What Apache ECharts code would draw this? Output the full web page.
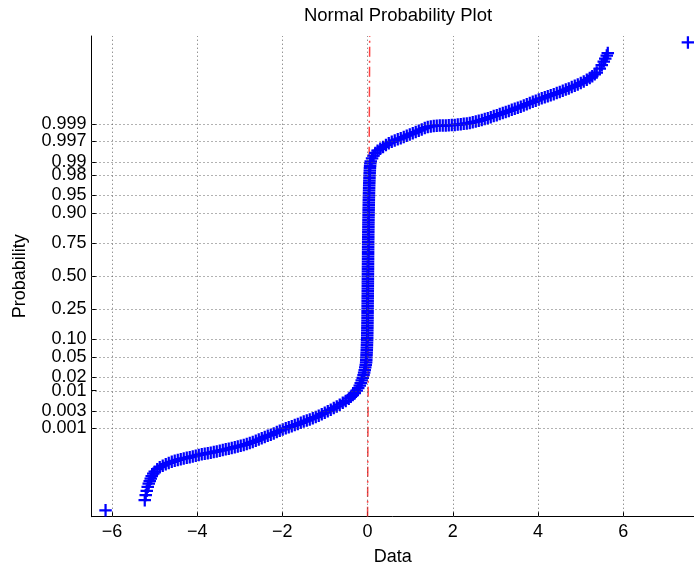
<!DOCTYPE html>
<html><head><meta charset="utf-8">
<script src="https://cdn.jsdelivr.net/npm/echarts@6/dist/echarts.min.js"></script>
<style>html,body{margin:0;padding:0;background:#fff}#c{width:694px;height:566px}</style>
</head><body><div id="c"></div>
<script>
// ---------- data (x = Data value, z = normal quantile of plotting position) ----------
const xTicks = [-6, -4, -2, 0, 2, 4, 6];
const probTicks = [0.001, 0.003, 0.01, 0.02, 0.05, 0.10, 0.25, 0.50, 0.75, 0.90, 0.95, 0.98, 0.99, 0.997, 0.999];
const probLabels = ['0.001', '0.003', '0.01', '0.02', '0.05', '0.10', '0.25', '0.50', '0.75', '0.90', '0.95', '0.98', '0.99', '0.997', '0.999'];

const outlierX = [-6.15, 7.52];
const outlierZ = [-4.76, 4.76];

const lowerStackX = [-5.230, -5.207, -5.183, -5.160, -5.136];
const lowerStackZ = [-4.553, -4.451, -4.364, -4.282, -4.217];

const lowerTailX = [-5.113, -5.089, -5.066, -5.030, -4.995, -4.937, -4.878,
  -4.808, -4.737, -4.667, -4.596, -4.526, -4.455, -4.385, -4.315, -4.244, -4.174, -4.103, -4.033, -3.962,
  -3.892, -3.822, -3.751, -3.681, -3.610, -3.540, -3.469, -3.399, -3.329, -3.258, -3.188, -3.117, -3.047, -2.977, -2.906, -2.836, -2.765, -2.695, -2.624, -2.554, -2.484, -2.413, -2.343,
  -2.272, -2.202, -2.131, -2.061, -1.991, -1.920, -1.850, -1.779, -1.709, -1.638, -1.568, -1.498, -1.427, -1.357, -1.286, -1.216, -1.146, -1.075, -1.005, -0.934, -0.864, -0.793, -0.723, -0.653, -0.582, -0.512,
  -0.441, -0.394, -0.347, -0.300, -0.254, -0.218, -0.183, -0.160, -0.136, -0.113, -0.094, -0.080, -0.066, -0.054, -0.042, -0.033];
const lowerTailZ = [-4.167, -4.116, -4.065, -4.014, -3.974, -3.923, -3.882,
  -3.852, -3.821, -3.797, -3.774, -3.754, -3.736, -3.719, -3.705, -3.693, -3.679, -3.665, -3.648, -3.634,
  -3.620, -3.608, -3.598, -3.587, -3.573, -3.561, -3.547, -3.535, -3.520, -3.506, -3.492, -3.476, -3.461, -3.445, -3.429, -3.411, -3.390, -3.370, -3.346, -3.321, -3.295, -3.268, -3.242,
  -3.224, -3.197, -3.169, -3.140, -3.114, -3.091, -3.069, -3.049, -3.026, -3.004, -2.980, -2.955, -2.933, -2.911, -2.886, -2.864, -2.835, -2.805, -2.774, -2.744, -2.713, -2.681, -2.646, -2.610, -2.573, -2.535,
  -2.490, -2.451, -2.415, -2.378, -2.327, -2.276, -2.222, -2.171, -2.118, -2.065, -2.012, -1.959, -1.907, -1.854, -1.801, -1.748];

const centerX = [-0.030, -0.027, -0.024, -0.021, -0.018, -0.016, -0.014, -0.012, -0.010, -0.008,
  -0.007, -0.006, -0.005, -0.004, -0.003, -0.002, -0.001, 0.000, 0.000, 0.001,
  0.001, 0.002, 0.002, 0.003, 0.003, 0.004, 0.004, 0.005, 0.005, 0.006,
  0.006, 0.007, 0.007, 0.008, 0.008, 0.009, 0.009, 0.010, 0.010, 0.011,
  0.011, 0.012, 0.012, 0.013, 0.013, 0.014, 0.014, 0.015, 0.015, 0.016,
  0.017, 0.017, 0.018, 0.019, 0.020, 0.020, 0.021, 0.022, 0.023, 0.024,
  0.025, 0.026, 0.027, 0.028, 0.029, 0.030, 0.031, 0.033, 0.034, 0.036,
  0.037, 0.039, 0.041, 0.043, 0.045, 0.047, 0.050, 0.053, 0.056, 0.060, 0.065];
const centerZ = [-1.70, -1.65, -1.60, -1.55, -1.50, -1.45, -1.40, -1.35, -1.30, -1.25,
  -1.20, -1.15, -1.10, -1.05, -1.00, -0.95, -0.90, -0.85, -0.80, -0.75,
  -0.70, -0.65, -0.60, -0.55, -0.50, -0.45, -0.40, -0.35, -0.30, -0.25,
  -0.20, -0.15, -0.10, -0.05, 0.00, 0.05, 0.10, 0.15, 0.20, 0.25,
  0.30, 0.35, 0.40, 0.45, 0.50, 0.55, 0.60, 0.65, 0.70, 0.75,
  0.80, 0.85, 0.90, 0.95, 1.00, 1.05, 1.10, 1.15, 1.20, 1.25,
  1.30, 1.35, 1.40, 1.45, 1.50, 1.55, 1.60, 1.65, 1.70, 1.75,
  1.80, 1.85, 1.90, 1.95, 2.00, 2.05, 2.10, 2.15, 2.20, 2.25, 2.30];

const upperTailX = [0.075, 0.106, 0.141, 0.183, 0.235, 0.298, 0.364, 0.432, 0.498, 0.568, 0.638, 0.709, 0.779, 0.850, 0.920,
  0.991, 1.061, 1.131, 1.202, 1.272, 1.343, 1.413, 1.484, 1.554, 1.624, 1.695, 1.765, 1.836, 1.906, 1.977, 2.047, 2.117, 2.188, 2.258, 2.329, 2.399, 2.469, 2.540, 2.610,
  2.681, 2.751, 2.822, 2.892, 2.962, 3.033, 3.103, 3.174, 3.244, 3.315, 3.385, 3.455, 3.526, 3.596, 3.667, 3.737, 3.808, 3.878, 3.948, 4.019,
  4.089, 4.160, 4.230, 4.300, 4.371, 4.441, 4.512, 4.582, 4.653, 4.723, 4.793, 4.864, 4.934, 5.005, 5.075, 5.146, 5.216, 5.275, 5.333, 5.380];
const upperTailZ = [2.337, 2.398, 2.455, 2.512, 2.557, 2.596, 2.632, 2.671, 2.707, 2.736, 2.764, 2.787, 2.809, 2.835, 2.862,
  2.886, 2.911, 2.935, 2.963, 2.990, 3.016, 3.037, 3.051, 3.061, 3.065, 3.067, 3.069, 3.071, 3.073, 3.077, 3.081, 3.087, 3.093, 3.104, 3.112, 3.122, 3.136, 3.150, 3.165,
  3.181, 3.199, 3.217, 3.238, 3.260, 3.280, 3.303, 3.323, 3.346, 3.366, 3.388, 3.411, 3.431, 3.453, 3.478, 3.502, 3.526, 3.551, 3.575, 3.600,
  3.622, 3.642, 3.665, 3.687, 3.707, 3.730, 3.750, 3.774, 3.799, 3.823, 3.850, 3.876, 3.902, 3.933, 3.963, 3.998, 4.034, 4.073, 4.110, 4.146];

const upperStackX = [5.451, 5.498, 5.545, 5.580, 5.615, 5.639];
const upperStackZ = [4.228, 4.299, 4.370, 4.431, 4.492, 4.543];

// fitted reference line (dash-dot, red)
const refLineX = [0.00, 0.05];
const refLineZ = [-4.89, 4.89];

// axis limits
const xLimits = [-6.48, 7.663];
const zLimits = [-4.89, 4.89];

// ---------- normal-probability scale (probit) ----------
function probit(p) {
  const a = [-3.969683028665376e+01, 2.209460984245205e+02, -2.759285104469687e+02, 1.383577518672690e+02, -3.066479806614716e+01, 2.506628277459239e+00];
  const b = [-5.447609879822406e+01, 1.615858368580409e+02, -1.556989798598866e+02, 6.680131188771972e+01, -1.328068155288572e+01];
  const c = [-7.784894002430293e-03, -3.223964580411365e-01, -2.400758277161838e+00, -2.549732539343734e+00, 4.374664141464968e+00, 2.938163982698783e+00];
  const d = [7.784695709041462e-03, 3.224671290700398e-01, 2.445134137142996e+00, 3.754408661907416e+00];
  const pl = 0.02425, ph = 1 - pl;
  let q, r;
  if (p < pl) {
    q = Math.sqrt(-2 * Math.log(p));
    return (((((c[0]*q+c[1])*q+c[2])*q+c[3])*q+c[4])*q+c[5]) / ((((d[0]*q+d[1])*q+d[2])*q+d[3])*q+1);
  } else if (p <= ph) {
    q = p - 0.5; r = q * q;
    return (((((a[0]*r+a[1])*r+a[2])*r+a[3])*r+a[4])*r+a[5])*q / (((((b[0]*r+b[1])*r+b[2])*r+b[3])*r+b[4])*r+1);
  } else {
    q = Math.sqrt(-2 * Math.log(1 - p));
    return -(((((c[0]*q+c[1])*q+c[2])*q+c[3])*q+c[4])*q+c[5]) / ((((d[0]*q+d[1])*q+d[2])*q+d[3])*q+1);
  }
}
const tickZ = probTicks.map(p => Math.round(probit(p) * 1e4) / 1e4);
// label positions: blank labels at the axis ends so every probability label is kept
const labelZ = [zLimits[0]].concat(tickZ, [zLimits[1]]);

function pairs(xs, zs) { const out = []; for (let i = 0; i < Math.min(xs.length, zs.length); i++) out.push([xs[i], zs[i]]); return out; }
const points = [].concat(
  pairs(outlierX.slice(0, 1), outlierZ.slice(0, 1)),
  pairs(lowerStackX, lowerStackZ),
  pairs(lowerTailX, lowerTailZ),
  pairs(centerX, centerZ),
  pairs(upperTailX, upperTailZ),
  pairs(upperStackX, upperStackZ),
  pairs(outlierX.slice(1), outlierZ.slice(1))
);

const S = 0.18;
const plusPath = 'path://M-1,-' + S + 'L-' + S + ',-' + S + 'L-' + S + ',-1L' + S + ',-1L' + S + ',-' + S +
  'L1,-' + S + 'L1,' + S + 'L' + S + ',' + S + 'L' + S + ',1L-' + S + ',1L-' + S + ',' + S + 'L-1,' + S + 'Z';

const FONT = '"Liberation Sans", Arial, Helvetica, sans-serif';
const chart = echarts.init(document.getElementById('c'), null, { renderer: 'canvas' });
const gridLineStyle = { color: '#555', width: 1, type: [1, 3], opacity: 0.9 };

chart.setOption({
  animation: false,
  backgroundColor: '#fff',
  title: {
    text: 'Normal Probability Plot',
    left: 393, top: 1, textAlign: 'center',
    textStyle: { fontFamily: FONT, fontSize: 18.5, fontWeight: 'normal', color: '#000' }
  },
  grid: { left: 91.5, top: 36, right: 0, height: 480.7, containLabel: false, outerBoundsMode: 'none' },
  xAxis: {
    type: 'value', min: xLimits[0], max: xLimits[1],
    name: 'Data', nameLocation: 'middle', nameGap: 31,
    nameTextStyle: { fontFamily: FONT, fontSize: 18, color: '#000' },
    axisLine: { show: true, onZero: false, lineStyle: { color: '#000', width: 1 } },
    axisTick: { show: true, inside: true, length: 5, customValues: xTicks, lineStyle: { color: '#000' } },
    axisLabel: {
      customValues: xTicks, margin: 6, fontFamily: FONT, fontSize: 18, color: '#000',
      hideOverlap: false,
      formatter: v => (v < 0 ? '\u2212' + Math.abs(v) : String(v))
    },
    splitLine: { show: false }
  },
  yAxis: {
    type: 'value', min: zLimits[0], max: zLimits[1],
    name: 'Probability', nameLocation: 'middle', nameGap: 62, nameRotate: 90,
    nameTextStyle: { fontFamily: FONT, fontSize: 18, color: '#000' },
    axisLine: { show: true, onZero: false, lineStyle: { color: '#000', width: 1 } },
    axisTick: { show: true, inside: true, length: 5, customValues: tickZ, lineStyle: { color: '#000' } },
    axisLabel: {
      customValues: labelZ, margin: 5, fontFamily: FONT, fontSize: 18, color: '#000',
      hideOverlap: false,
      formatter: v => {
        let best = -1, bd = 1e9;
        tickZ.forEach((t, i) => { const dd = Math.abs(t - v); if (dd < bd) { bd = dd; best = i; } });
        return bd < 0.01 ? probLabels[best] : '';
      }
    },
    splitLine: { show: false }
  },
  series: [
    {
      name: 'Reference line', type: 'line', z: 1,
      data: pairs(refLineX, refLineZ),
      showSymbol: false, symbol: 'none',
      lineStyle: { color: '#ff2020', width: 1.5, type: [10, 4, 2, 4], opacity: 0.85 },
      markLine: {
        silent: true, symbol: 'none', animation: false,
        label: { show: false },
        lineStyle: gridLineStyle,
        emphasis: { disabled: true },
        data: xTicks.map(v => ({ xAxis: v })).concat(tickZ.map(z => ({ yAxis: z })))
      }
    },
    {
      name: 'Data', type: 'scatter', z: 2,
      data: points,
      symbol: plusPath, symbolSize: 12.5,
      itemStyle: { color: '#0000ff', opacity: 1 },
      emphasis: { disabled: true }
    }
  ]
});
</script></body></html>
